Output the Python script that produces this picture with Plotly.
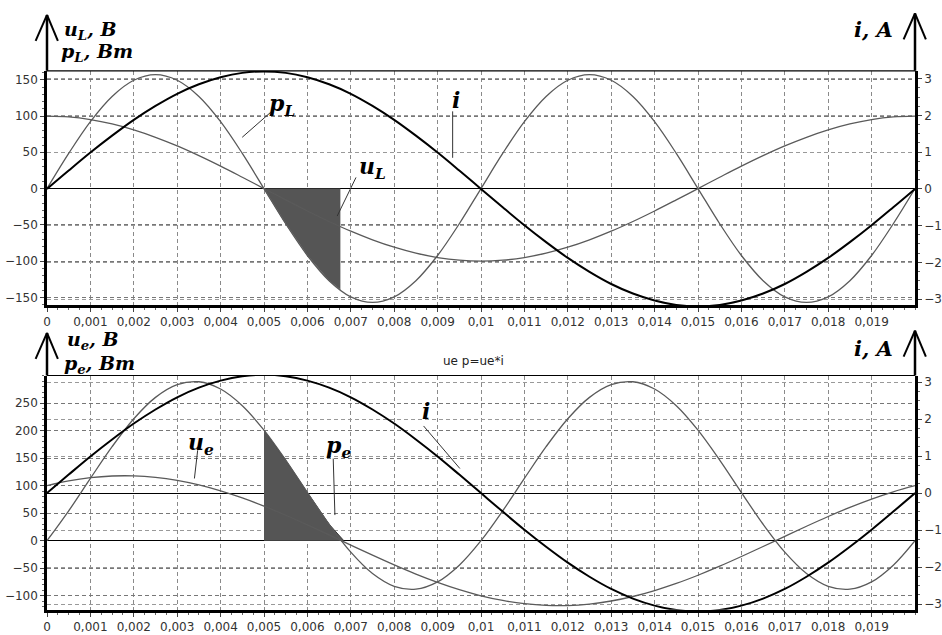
import plotly.graph_objects as go

# ---------------- data ----------------
t = [0.0000, 0.0005, 0.0010, 0.0015, 0.0020, 0.0025, 0.0030, 0.0035, 0.0040, 0.0045,
     0.0050, 0.0055, 0.0060, 0.0065, 0.0070, 0.0075, 0.0080, 0.0085, 0.0090, 0.0095,
     0.0100, 0.0105, 0.0110, 0.0115, 0.0120, 0.0125, 0.0130, 0.0135, 0.0140, 0.0145,
     0.0150, 0.0155, 0.0160, 0.0165, 0.0170, 0.0175, 0.0180, 0.0185, 0.0190, 0.0195,
     0.0200]

i_A = [0, 0.50, 0.99, 1.45, 1.88, 2.26, 2.59, 2.85, 3.04, 3.16,
       3.20, 3.16, 3.04, 2.85, 2.59, 2.26, 1.88, 1.45, 0.99, 0.50,
       0, -0.50, -0.99, -1.45, -1.88, -2.26, -2.59, -2.85, -3.04, -3.16,
       -3.20, -3.16, -3.04, -2.85, -2.59, -2.26, -1.88, -1.45, -0.99, -0.50,
       0]

u_L = [100, 98.8, 95.1, 89.1, 80.9, 70.7, 58.8, 45.4, 30.9, 15.6,
       0, -15.6, -30.9, -45.4, -58.8, -70.7, -80.9, -89.1, -95.1, -98.8,
       -100, -98.8, -95.1, -89.1, -80.9, -70.7, -58.8, -45.4, -30.9, -15.6,
       0, 15.6, 30.9, 45.4, 58.8, 70.7, 80.9, 89.1, 95.1, 98.8,
       100]

p_L = [0, 48.5, 92.3, 127.0, 149.3, 157, 149.3, 127.0, 92.3, 48.5,
       0, -48.5, -92.3, -127.0, -149.3, -157, -149.3, -127.0, -92.3, -48.5,
       0, 48.5, 92.3, 127.0, 149.3, 157, 149.3, 127.0, 92.3, 48.5,
       0, -48.5, -92.3, -127.0, -149.3, -157, -149.3, -127.0, -92.3, -48.5,
       0]

u_e = [100.0, 108.5, 114.4, 117.5, 117.7, 115.0, 109.5, 101.3, 90.5, 77.6,
       62.7, 46.3, 28.7, 10.5, -8.0, -26.3, -44.0, -60.6, -75.7, -88.9,
       -100.0, -108.5, -114.4, -117.5, -117.7, -115.0, -109.5, -101.3, -90.5, -77.6,
       -62.7, -46.3, -28.7, -10.5, 8.0, 26.3, 44.0, 60.6, 75.7, 88.9,
       100.0]

p_e = [0, 54.3, 113.2, 170.8, 221.4, 260.3, 283.4, 288.7, 275.5, 245.2,
       200.7, 146.3, 87.5, 29.9, -20.8, -59.6, -82.8, -88.0, -74.8, -44.5,
       0, 54.3, 113.2, 170.8, 221.4, 260.3, 283.4, 288.7, 275.5, 245.2,
       200.7, 146.3, 87.5, 29.9, -20.8, -59.6, -82.8, -88.0, -74.8, -44.5,
       0]

fill_L_t = [0.0050, 0.0055, 0.0060, 0.0065, 0.00676]
fill_L_p = [0, -48.5, -92.3, -127.0, -139.5]
fill_e_t = [0.0050, 0.0055, 0.0060, 0.0065, 0.00684]
fill_e_p = [200.7, 146.3, 87.5, 29.9, 0]

x_ticks = [0, 0.001, 0.002, 0.003, 0.004, 0.005, 0.006, 0.007, 0.008, 0.009,
           0.010, 0.011, 0.012, 0.013, 0.014, 0.015, 0.016, 0.017, 0.018, 0.019]
x_tick_labels = ["0", "0,001", "0,002", "0,003", "0,004", "0,005", "0,006", "0,007",
                 "0,008", "0,009", "0,01", "0,011", "0,012", "0,013", "0,014", "0,015",
                 "0,016", "0,017", "0,018", "0,019"]
yL_ticks = [-150, -100, -50, 0, 50, 100, 150]
ye_ticks = [-100, -50, 0, 50, 100, 150, 200, 250]
yi_ticks = [-3, -2, -1, 0, 1, 2, 3]

# ---------------- geometry helpers (pixel -> paper) ----------------
W, H = 942, 635
L, R = 46.7, 924.0
PW = R - L


def px(x):
    return (x - L) / PW


def py(y):
    return 1 - y / H


TOP_DOM = [py(306), py(71)]
BOT_DOM = [py(611.7), py(376.7)]

GRAY = "#5a5a5a"
fig = go.Figure()

# top panel
fig.add_trace(go.Scatter(x=fill_L_t, y=fill_L_p, xaxis="x", yaxis="y", mode="lines",
                         fill="tozeroy", fillcolor="#555555",
                         line=dict(color="#777777", width=1), showlegend=False))
fig.add_trace(go.Scatter(x=t, y=u_L, xaxis="x", yaxis="y", mode="lines",
                         line=dict(color=GRAY, width=1.3, shape="spline"), showlegend=False))
fig.add_trace(go.Scatter(x=t, y=p_L, xaxis="x", yaxis="y", mode="lines",
                         line=dict(color=GRAY, width=1.3, shape="spline"), showlegend=False))
fig.add_trace(go.Scatter(x=t, y=i_A, xaxis="x", yaxis="y2", mode="lines",
                         line=dict(color="black", width=2, shape="spline"), showlegend=False))

# bottom panel
fig.add_trace(go.Scatter(x=fill_e_t, y=fill_e_p, xaxis="x2", yaxis="y3", mode="lines",
                         fill="tozeroy", fillcolor="#555555",
                         line=dict(color="#333333", width=1), showlegend=False))
fig.add_trace(go.Scatter(x=t, y=u_e, xaxis="x2", yaxis="y3", mode="lines",
                         line=dict(color=GRAY, width=1.3, shape="spline"), showlegend=False))
fig.add_trace(go.Scatter(x=t, y=p_e, xaxis="x2", yaxis="y3", mode="lines",
                         line=dict(color=GRAY, width=1.3, shape="spline"), showlegend=False))
fig.add_trace(go.Scatter(x=t, y=i_A, xaxis="x2", yaxis="y4", mode="lines",
                         line=dict(color="black", width=2, shape="spline"), showlegend=False))

tickfont = dict(family="DejaVu Sans", size=12, color="#333333")


def xaxis(anchor):
    return dict(domain=[0, 1], anchor=anchor, range=[0, 0.02],
                tickmode="array", tickvals=x_ticks, ticktext=x_tick_labels,
                showgrid=True, gridcolor="#8a8a8a", gridwidth=1, griddash="4px,3px",
                zeroline=False, showline=True, linecolor="black", linewidth=2.5,
                ticks="outside", ticklen=4, tickcolor="#444", tickfont=tickfont,
                minor=dict(dtick=0.00025, tick0=0, ticklen=2, tickcolor="#666",
                           showgrid=False, ticks="outside"))


def yleft(dom, rng, ticks, anchor):
    return dict(domain=dom, anchor=anchor, range=rng, tickmode="array", tickvals=ticks,
                showgrid=True, gridcolor="#777777", gridwidth=1.4, griddash="4px,3px",
                zeroline=True, zerolinecolor="black", zerolinewidth=1,
                showline=True, linecolor="black", linewidth=2.5,
                ticks="outside", ticklen=4, tickcolor="#444", tickfont=tickfont,
                minor=dict(dtick=10, tick0=0, ticklen=2, tickcolor="#666",
                           showgrid=False, ticks="outside"))


def yright(rng, overlay, anchor):
    return dict(overlaying=overlay, side="right", anchor=anchor, range=rng,
                tickmode="array", tickvals=yi_ticks,
                showgrid=True, gridcolor="#999999", gridwidth=1, griddash="4px,3px",
                zeroline=True, zerolinecolor="black", zerolinewidth=1,
                showline=True, linecolor="black", linewidth=2.5,
                ticks="outside", ticklen=4, tickcolor="#444", tickfont=tickfont,
                minor=dict(dtick=0.25, tick0=0, ticklen=2, tickcolor="#666",
                           showgrid=False, ticks="outside"))


fig.update_layout(
    width=W, height=H, autosize=False,
    margin=dict(l=L, r=W - R, t=0, b=0, pad=0),
    paper_bgcolor="white", plot_bgcolor="white",
    separators=", ",
    showlegend=False,
    xaxis=xaxis("y"),
    yaxis=yleft(TOP_DOM, [-160.6, 162.4], yL_ticks, "x"),
    yaxis2=yright([-3.163, 3.217], "y", "x"),
    xaxis2=xaxis("y3"),
    yaxis3=yleft(BOT_DOM, [-125.4, 300.0], ye_ticks, "x2"),
    yaxis4=yright([-3.153, 3.178], "y3", "x2"),
)

shapes = []


def seg(x0, y0, x1, y1, w=1.0, c="#333333"):
    shapes.append(dict(type="line", xref="paper", yref="paper",
                       x0=px(x0), y0=py(y0), x1=px(x1), y1=py(y1),
                       line=dict(color=c, width=w)))


# top borders of both panels
seg(L, 71, R, 71, 1.2, "black")
seg(L, 376.7, R, 376.7, 1.2, "black")

# axis arrows
for (ax, top, apex) in [(L, 71, 15), (R, 71, 13.5), (L, 376.7, 334), (R, 376.7, 331.7)]:
    seg(ax, top, ax, apex, 2.5, "black")
    seg(ax, apex, ax - 11.5, apex + 26, 2, "black")
    seg(ax, apex, ax + 11, apex + 26, 2, "black")

# curve label pointers
seg(272.7, 112.7, 244, 137.7)
seg(456.7, 111.7, 456.7, 158.3)
seg(359, 178, 340, 216.7)
seg(199, 451.7, 195.7, 480)
seg(336, 460, 337.7, 516.7)
seg(427.3, 427.3, 464, 470)

fig.update_layout(shapes=shapes)

serif = "DejaVu Serif"
ann = []


def label(text, x, y, size, xanchor="center", yanchor="middle"):
    ann.append(dict(text=text, x=px(x), y=py(y), xref="paper", yref="paper",
                    showarrow=False, xanchor=xanchor, yanchor=yanchor,
                    font=dict(family=serif, size=size, color="black")))


# axis titles
label("<b><i>u<sub>L</sub>, B</i></b>", 62, 31, 19, "left")
label("<b><i>p<sub>L</sub>, Bm</i></b>", 59, 53, 19, "left")
label("<b><i>i, A</i></b>", 904, 30, 21, "right")
label("<b><i>u<sub>e</sub>, B</i></b>", 65, 342, 19, "left")
label("<b><i>p<sub>e</sub>, Bm</i></b>", 62, 366, 19, "left")
label("<b><i>i, A</i></b>", 904, 350, 21, "right")

# curve labels
label("<b><i>p<sub>L</sub></i></b>", 284, 105, 22)
label("<b><i>i</i></b>", 460, 100, 22)
label("<b><i>u<sub>L</sub></i></b>", 376, 169, 22)
label("<b><i>u<sub>e</sub></i></b>", 202, 445, 22)
label("<b><i>p<sub>e</sub></i></b>", 341, 448, 22)
label("<b><i>i</i></b>", 430, 412, 22)

ann.append(dict(text="ue p=ue*i", x=px(478), y=py(362), xref="paper", yref="paper",
                showarrow=False, xanchor="center", yanchor="middle",
                font=dict(family="DejaVu Sans", size=12, color="#222222")))

fig.update_layout(annotations=ann)

fig.write_html("out.html")
